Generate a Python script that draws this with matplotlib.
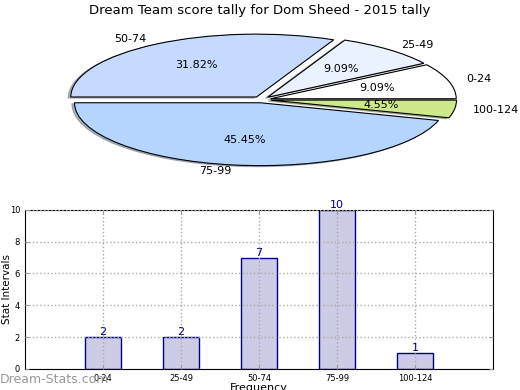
import matplotlib
matplotlib.use("Agg")
import matplotlib.pyplot as plt

# Score intervals and how often each one occurred
intervals = ["0-24", "25-49", "50-74", "75-99", "100-124"]
counts = [2, 2, 7, 10, 1]
pie_colors = ["#ffffff", "#eaf2ff", "#c6d9ff", "#b5d5ff", "#cde98a"]

fig = plt.figure(figsize=(5.2, 3.9), dpi=100)

# Pie chart (squashed, old style)
ax1 = fig.add_axes([0.0565, 0.543, 0.893, 0.403])
ax1.pie(counts, labels=intervals, colors=pie_colors, explode=[0.05] * 5,
        autopct="%1.2f%%", startangle=0,
        shadow={"ox": -0.01, "oy": -0.012, "shade": 0.5},
        wedgeprops={"edgecolor": "black", "linewidth": 0.8},
        textprops={"fontsize": 8})
ax1.set_aspect("auto")
fig.text(0.5, 0.973, "Dream Team score tally for Dom Sheed - 2015 tally",
         ha="center", va="center", fontsize=9.5)

# Bar chart
ax2 = fig.add_axes([0.048, 0.054, 0.9, 0.408])
x = list(range(len(intervals)))
ax2.bar(x, counts, width=0.46, color="#ccccE6", edgecolor="#000080", linewidth=1)
for xi, c in zip(x, counts):
    ax2.text(xi, c, str(c), ha="center", va="bottom", color="#000080", fontsize=8)
ax2.set_xlim(-1, 5)
ax2.set_ylim(0, 10)
ax2.set_xticks(x)
ax2.set_xticklabels(intervals, fontsize=6)
ax2.set_yticks(range(0, 11, 2))
ax2.tick_params(axis="y", labelsize=6)
ax2.tick_params(direction="in", top=True, right=True, color="#999999", length=3)
ax2.grid(True, linestyle=":", color="#aaaaaa", linewidth=1)
ax2.set_axisbelow(False)
ax2.set_ylabel("Stat Intervals", fontsize=7.5)
ax2.yaxis.set_label_coords(-0.028, 0.5)
ax2.set_xlabel("Frequency", fontsize=8, labelpad=0)

fig.text(0.0, 0.026, "Dream-Stats.com", color="#999999", fontsize=9,
         ha="left", va="center")

fig.savefig("out.png", dpi=100)
